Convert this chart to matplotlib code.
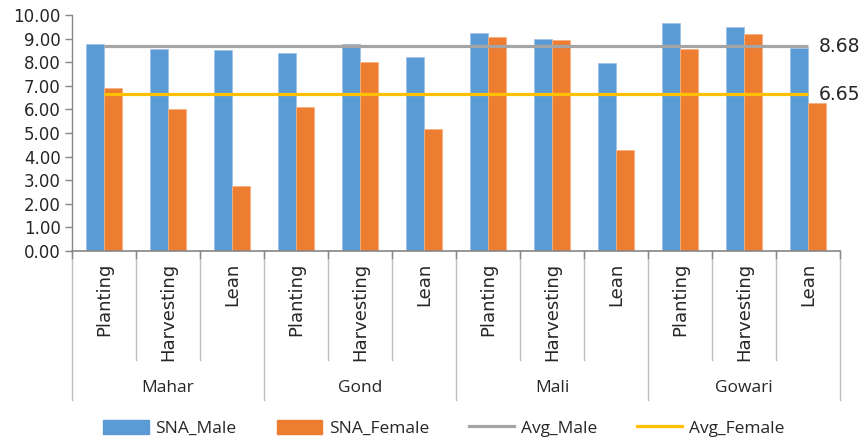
import matplotlib.pyplot as plt
from matplotlib.lines import Line2D
from matplotlib.patches import Patch
import matplotlib.transforms as mtransforms
import numpy as np

groups = ["Mahar", "Gond", "Mali", "Gowari"]
seasons = ["Planting", "Harvesting", "Lean"]
sna_male = [8.76, 8.56, 8.52, 8.39, 8.77, 8.20, 9.22, 8.98, 7.95, 9.65, 9.49, 8.61]
sna_female = [6.89, 6.03, 2.77, 6.10, 8.01, 5.18, 9.07, 8.93, 4.27, 8.56, 9.19, 6.27]
avg_male = 8.68
avg_female = 6.65

blue = "#5B9BD5"
orange = "#ED7D31"
gray = "#A5A5A5"
yellow = "#FFC000"
sep = "#BFBFBF"

fig = plt.figure(figsize=(8.62, 4.41), dpi=100)
ax = fig.add_axes([0.0835, 0.4308, 0.891, 0.5352])

n = len(sna_male)
x = np.arange(n)
w = 0.28
ax.bar(x - w / 2, sna_male, w, color=blue, edgecolor="#9DC3E6", linewidth=0.6, zorder=2)
ax.bar(x + w / 2, sna_female, w, color=orange, edgecolor="#F4B183", linewidth=0.6, zorder=2)
ax.plot(x, [avg_male] * n, color=gray, lw=2.3, zorder=3, solid_capstyle="butt")
ax.plot(x, [avg_female] * n, color=yellow, lw=2.3, zorder=3, solid_capstyle="butt")
ax.text(n - 1 + 0.17, avg_male, f"{avg_male:.2f}", fontsize=13.5, va="center", ha="left", color="#262626")
ax.text(n - 1 + 0.17, avg_female, f"{avg_female:.2f}", fontsize=13.5, va="center", ha="left", color="#262626")

ax.set_xlim(-0.5, n - 0.5)
ax.set_ylim(0, 10)
ax.set_yticks(np.arange(0, 10.01, 1))
ax.set_yticklabels([f"{v:.2f}" for v in np.arange(0, 10.01, 1)], fontsize=12, color="#262626")
ax.tick_params(axis="y", length=5, color="#868686", width=1, pad=3)
ax.set_xticks([])
for s in ["top", "right"]:
    ax.spines[s].set_visible(False)
ax.spines["left"].set_color("#868686")
ax.spines["bottom"].set_color("#868686")
ax.spines["left"].set_linewidth(1)
ax.spines["bottom"].set_linewidth(1.2)

# hierarchical category axis
trans = mtransforms.blended_transform_factory(ax.transData, ax.transAxes)
for i in range(n + 1):
    xb = i - 0.5
    low = -0.631 if i % 3 == 0 else -0.462
    ax.plot([xb, xb], [0, low], transform=trans, color=sep, lw=1, clip_on=False)
    ax.plot([xb, xb], [0, -0.03], transform=trans, color="#868686", lw=1, clip_on=False)

for i in range(n):
    ax.text(i, -0.05, seasons[i % 3], transform=trans, rotation=90, ha="center", va="top",
            fontsize=13, color="#262626")

for g, name in enumerate(groups):
    ax.text(g * 3 + 1, -0.58, name, transform=trans, ha="center", va="center",
            fontsize=12.5, family="Open Sans", color="#262626")

handles = [
    Patch(facecolor=blue, edgecolor=blue),
    Patch(facecolor=orange, edgecolor=orange),
    Line2D([0], [0], color=gray, lw=2.3),
    Line2D([0], [0], color=yellow, lw=2.3),
]
fig.legend(handles, ["SNA_Male", "SNA_Female", "Avg_Male", "Avg_Female"], loc="center",
           bbox_to_anchor=(0.515, 0.029), ncol=4, frameon=False,
           prop={"family": "Open Sans", "size": 12.5}, handlelength=2.6, handleheight=0.9,
           columnspacing=2.3, handletextpad=0.4, labelcolor="#262626")

fig.savefig("out.png", dpi=100)
